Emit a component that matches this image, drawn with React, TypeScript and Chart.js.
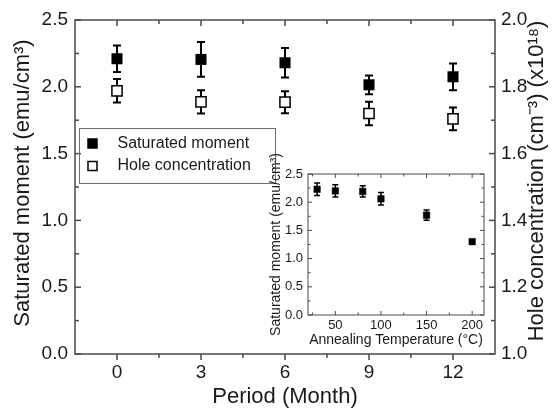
import React, { useEffect, useRef } from 'react';
import { Chart, registerables } from 'chart.js';
Chart.register(...registerables);

// ---------------- data ----------------
const periods = [0, 3, 6, 9, 12];
const satMoment = [2.21, 2.205, 2.18, 2.015, 2.075];
const satMomentErr = [0.1, 0.13, 0.11, 0.07, 0.1];
const holeConc = [1.788, 1.755, 1.754, 1.72, 1.704];
const holeConcErr = [0.035, 0.035, 0.033, 0.035, 0.034];

const periodTicks = [0, 3, 6, 9, 12];
const periodMinor = [1.5, 4.5, 7.5, 10.5];
const momentTicks = [0, 0.5, 1, 1.5, 2, 2.5];
const momentMinor = [0.25, 0.75, 1.25, 1.75, 2.25];
const holeTicks = [1, 1.2, 1.4, 1.6, 1.8, 2];
const holeMinor = [1.1, 1.3, 1.5, 1.7, 1.9];

const annealTemps = [30, 50, 80, 100, 150, 200];
const annealMoment = [2.23, 2.2, 2.19, 2.06, 1.77, 1.3];
const annealErr = [0.11, 0.11, 0.1, 0.11, 0.09, 0.04];
const annealTicks = [50, 100, 150, 200];
const annealMinor = [25, 75, 125, 175];
const insetMomentTicks = [0, 0.5, 1, 1.5, 2, 2.5];
const insetMomentMinor = [0.25, 0.75, 1.25, 1.75, 2.25];

const seriesLabels = ['Saturated moment', 'Hole concentration'];
const xTitle = 'Period (Month)';
const yTitle = 'Saturated moment (emu/cm³)';
const y2Title = 'Hole concentration (cm⁻³) (x10¹⁸)';
const insetXTitle = 'Annealing Temperature (°C)';
const insetYTitle = 'Saturated moment (emu/cm³)';

// ---------------- styling helpers ----------------
const FAMILY = "'Liberation Sans', Arial, Helvetica, sans-serif";
const AXIS_COLOR = '#4a4a4a';
const TEXT_COLOR = '#1a1a1a';
const f = (s: number) => `${s}px ${FAMILY}`;

type AxisSpec = {
  id: string;
  side: 'top' | 'bottom' | 'left' | 'right';
  major: number[];
  minor: number[];
  inward: boolean;
  majorLen: number;
  minorLen: number;
  labels?: { fmt: (v: number) => string; size: number; pad: number };
};

function drawAxes(chart: any, specs: AxisSpec[], lw: number) {
  const { ctx, chartArea: a } = chart;
  ctx.save();
  ctx.strokeStyle = AXIS_COLOR;
  ctx.lineWidth = lw;
  ctx.strokeRect(a.left, a.top, a.right - a.left, a.bottom - a.top);
  for (const s of specs) {
    const sc = chart.scales[s.id];
    const dir = s.inward ? 1 : -1;
    const tick = (v: number, len: number) => {
      const p = sc.getPixelForValue(v);
      ctx.beginPath();
      if (s.side === 'top') { ctx.moveTo(p, a.top); ctx.lineTo(p, a.top + dir * len); }
      else if (s.side === 'bottom') { ctx.moveTo(p, a.bottom); ctx.lineTo(p, a.bottom - dir * len); }
      else if (s.side === 'left') { ctx.moveTo(a.left, p); ctx.lineTo(a.left + dir * len, p); }
      else { ctx.moveTo(a.right, p); ctx.lineTo(a.right - dir * len, p); }
      ctx.stroke();
    };
    s.major.forEach((v) => tick(v, s.majorLen));
    s.minor.forEach((v) => tick(v, s.minorLen));
    if (s.labels) {
      const L = s.labels;
      ctx.fillStyle = TEXT_COLOR;
      ctx.font = f(L.size);
      ctx.textBaseline = 'middle';
      s.major.forEach((v) => {
        const p = sc.getPixelForValue(v);
        const t = L.fmt(v);
        if (s.side === 'bottom') { ctx.textAlign = 'center'; ctx.fillText(t, p, a.bottom + L.pad); }
        else if (s.side === 'left') { ctx.textAlign = 'right'; ctx.fillText(t, a.left - L.pad, p); }
        else if (s.side === 'right') { ctx.textAlign = 'left'; ctx.fillText(t, a.right + L.pad, p); }
      });
    }
  }
  ctx.restore();
}

function drawErrorBars(chart: any, errs: number[][], capHalf: number, lw: number) {
  const ctx = chart.ctx;
  ctx.save();
  ctx.strokeStyle = '#000';
  ctx.lineWidth = lw;
  chart.data.datasets.forEach((ds: any, di: number) => {
    const meta = chart.getDatasetMeta(di);
    const sc = chart.scales[meta.yAxisID];
    meta.data.forEach((pt: any, i: number) => {
      const v = ds.data[i].y;
      const e = errs[di][i];
      const yt = sc.getPixelForValue(v + e);
      const yb = sc.getPixelForValue(v - e);
      ctx.beginPath();
      ctx.moveTo(pt.x, yt); ctx.lineTo(pt.x, yb);
      ctx.moveTo(pt.x - capHalf, yt); ctx.lineTo(pt.x + capHalf, yt);
      ctx.moveTo(pt.x - capHalf, yb); ctx.lineTo(pt.x + capHalf, yb);
      ctx.stroke();
    });
  });
  ctx.restore();
}

function rotatedText(ctx: any, text: string, x: number, y: number, size: number) {
  ctx.save();
  ctx.translate(x, y);
  ctx.rotate(-Math.PI / 2);
  ctx.font = f(size);
  ctx.fillStyle = TEXT_COLOR;
  ctx.textAlign = 'center';
  ctx.textBaseline = 'middle';
  ctx.fillText(text, 0, 0);
  ctx.restore();
}

const oneDec = (v: number) => v.toFixed(1);
const intFmt = (v: number) => String(v);

export default function App() {
  const mainRef = useRef<HTMLCanvasElement | null>(null);
  const insetRef = useRef<HTMLCanvasElement | null>(null);

  useEffect(() => {
    if (!mainRef.current || !insetRef.current) return;

    const mainSpecs: AxisSpec[] = [
      { id: 'x', side: 'bottom', major: periodTicks, minor: periodMinor, inward: false, majorLen: 6, minorLen: 4, labels: { fmt: intFmt, size: 19, pad: 19 } },
      { id: 'x', side: 'top', major: periodTicks, minor: periodMinor, inward: true, majorLen: 6, minorLen: 4 },
      { id: 'y', side: 'left', major: momentTicks, minor: momentMinor, inward: true, majorLen: 6, minorLen: 4, labels: { fmt: oneDec, size: 19, pad: 7 } },
      { id: 'y2', side: 'right', major: holeTicks, minor: holeMinor, inward: true, majorLen: 6, minorLen: 4, labels: { fmt: oneDec, size: 19, pad: 6 } },
    ];

    const mainPlugin = {
      id: 'mainDecor',
      beforeDatasetsDraw(chart: any) {
        drawErrorBars(chart, [satMomentErr, holeConcErr], 4, 2);
      },
      afterDraw(chart: any) {
        const { ctx, chartArea: a } = chart;
        drawAxes(chart, mainSpecs, 1.5);
        // titles
        ctx.save();
        ctx.fillStyle = TEXT_COLOR;
        ctx.font = f(22);
        ctx.textAlign = 'center';
        ctx.textBaseline = 'middle';
        ctx.fillText(xTitle, (a.left + a.right) / 2, a.bottom + 43);
        ctx.restore();
        const cy = (a.top + a.bottom) / 2;
        rotatedText(ctx, yTitle, 23, cy - 4, 22);
        rotatedText(ctx, y2Title, 537, cy - 6, 22);
        // legend
        const lx = a.left + 4.5, ly = a.top + 108.5;
        ctx.save();
        ctx.strokeStyle = '#6e6e6e';
        ctx.lineWidth = 1;
        ctx.strokeRect(lx, ly, 196, 55);
        chart.data.datasets.forEach((ds: any, i: number) => {
          const my = ly + 15 + i * 22.5;
          const mx = lx + 13;
          ctx.beginPath();
          ctx.rect(mx - 4.5, my - 4.5, 9, 9);
          ctx.fillStyle = ds.pointBackgroundColor;
          ctx.fill();
          ctx.lineWidth = 1.5;
          ctx.strokeStyle = '#000';
          ctx.stroke();
          ctx.fillStyle = TEXT_COLOR;
          ctx.font = f(16);
          ctx.textAlign = 'left';
          ctx.textBaseline = 'middle';
          ctx.fillText(ds.label, lx + 38, my);
        });
        ctx.restore();
      },
    };

    const main = new Chart(mainRef.current, {
      type: 'scatter',
      data: {
        datasets: [
          {
            label: seriesLabels[0],
            data: periods.map((p, i) => ({ x: p, y: satMoment[i] })),
            yAxisID: 'y',
            pointStyle: 'rect',
            pointRadius: 7.8,
            pointBackgroundColor: '#000',
            pointBorderColor: '#000',
            pointBorderWidth: 0,
            showLine: false,
          },
          {
            label: seriesLabels[1],
            data: periods.map((p, i) => ({ x: p, y: holeConc[i] })),
            yAxisID: 'y2',
            pointStyle: 'rect',
            pointRadius: 7.2,
            pointBackgroundColor: '#fff',
            pointBorderColor: '#000',
            pointBorderWidth: 1.5,
            showLine: false,
          },
        ],
      },
      options: {
        animation: false,
        responsive: false,
        maintainAspectRatio: false,
        devicePixelRatio: 1,
        events: [],
        layout: { padding: { left: 75, right: 58, top: 20, bottom: 54 } },
        plugins: { legend: { display: false }, tooltip: { enabled: false } },
        scales: {
          x: { type: 'linear', min: -1.5, max: 13.5, display: false },
          y: { type: 'linear', position: 'left', min: 0, max: 2.5, display: false },
          y2: { type: 'linear', position: 'right', min: 1, max: 2, display: false },
        },
      } as any,
      plugins: [mainPlugin],
    });

    const insetSpecs: AxisSpec[] = [
      { id: 'x', side: 'bottom', major: annealTicks, minor: annealMinor, inward: true, majorLen: 4, minorLen: 2.5, labels: { fmt: intFmt, size: 13, pad: 10 } },
      { id: 'x', side: 'top', major: annealTicks, minor: annealMinor, inward: true, majorLen: 4, minorLen: 2.5 },
      { id: 'y', side: 'left', major: insetMomentTicks, minor: insetMomentMinor, inward: true, majorLen: 4, minorLen: 2.5, labels: { fmt: oneDec, size: 13, pad: 5 } },
      { id: 'y', side: 'right', major: insetMomentTicks, minor: insetMomentMinor, inward: true, majorLen: 4, minorLen: 2.5 },
    ];

    const insetPlugin = {
      id: 'insetDecor',
      beforeDatasetsDraw(chart: any) {
        drawErrorBars(chart, [annealErr], 3, 1.5);
      },
      afterDraw(chart: any) {
        const { ctx, chartArea: a } = chart;
        drawAxes(chart, insetSpecs, 1);
        ctx.save();
        ctx.fillStyle = TEXT_COLOR;
        ctx.font = f(14);
        ctx.textAlign = 'center';
        ctx.textBaseline = 'middle';
        ctx.fillText(insetXTitle, (a.left + a.right) / 2, a.bottom + 25);
        ctx.restore();
        rotatedText(ctx, insetYTitle, 14, (a.top + a.bottom) / 2, 14);
      },
    };

    const inset = new Chart(insetRef.current, {
      type: 'scatter',
      data: {
        datasets: [
          {
            label: seriesLabels[0],
            data: annealTemps.map((t, i) => ({ x: t, y: annealMoment[i] })),
            pointStyle: 'rect',
            pointRadius: 4.6,
            pointBackgroundColor: '#000',
            pointBorderColor: '#000',
            pointBorderWidth: 0.5,
            showLine: false,
          },
        ],
      },
      options: {
        animation: false,
        responsive: false,
        maintainAspectRatio: false,
        devicePixelRatio: 1,
        events: [],
        layout: { padding: { left: 46, right: 8, top: 29, bottom: 35 } },
        plugins: { legend: { display: false }, tooltip: { enabled: false } },
        scales: {
          x: { type: 'linear', min: 20, max: 213, display: false },
          y: { type: 'linear', min: 0, max: 2.5, display: false },
        },
      } as any,
      plugins: [insetPlugin],
    });

    return () => {
      main.destroy();
      inset.destroy();
    };
  }, []);

  return (
    <div style={{ position: 'fixed', left: 0, top: 0, width: 553, height: 408, background: '#fff', overflow: 'hidden' }}>
      <canvas ref={mainRef} width={553} height={408} style={{ position: 'absolute', left: 0, top: 0, width: 553, height: 408 }} />
      <canvas ref={insetRef} width={230} height={205} style={{ position: 'absolute', left: 262, top: 145, width: 230, height: 205 }} />
    </div>
  );
}
